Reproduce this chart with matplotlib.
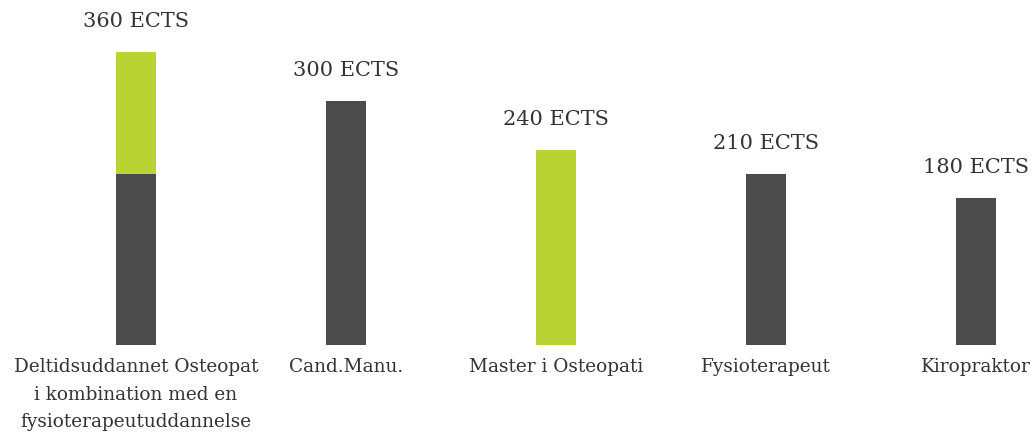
import matplotlib
matplotlib.use("Agg")
import matplotlib.pyplot as plt

categories = ["Deltidsuddannet Osteopat\ni kombination med en\nfysioterapeutuddannelse",
              "Cand.Manu.", "Master i Osteopati", "Fysioterapeut", "Kiropraktor"]
base_values = [210, 300, 0, 210, 180]
green_values = [150, 0, 240, 0, 0]
value_labels = ["360 ECTS", "300 ECTS", "240 ECTS", "210 ECTS", "180 ECTS"]

dark = "#4b4b4b"
green = "#b9d334"
text_color = "#333333"
font = ["DejaVu Serif"]

fig = plt.figure(figsize=(10.32, 4.36), dpi=100)
ax = fig.add_axes([0, 0, 1, 1])
x = list(range(len(categories)))
w = 40 / 210
ax.bar(x, base_values, width=w, color=dark, linewidth=0)
ax.bar(x, green_values, width=w, bottom=base_values, color=green, linewidth=0)

px_per_unit = 293 / 360
ax.set_xlim(-136 / 210, (1032 - 136) / 210)
ax.set_ylim(-91 / px_per_unit, (436 - 91) / px_per_unit)
ax.axis("off")

for xi, b, g, lab in zip(x, base_values, green_values, value_labels):
    ax.annotate(lab, (xi, b + g), xytext=(0, 22), textcoords="offset points",
                ha="center", va="center", fontsize=15, color=text_color,
                family=font)

for xi, cat in zip(x, categories):
    ax.annotate(cat, (xi, 0), xytext=(0, -9.5), textcoords="offset points",
                ha="center", va="top", fontsize=13.3, color=text_color,
                family=font, linespacing=1.68)

fig.savefig("out.png", dpi=100)
